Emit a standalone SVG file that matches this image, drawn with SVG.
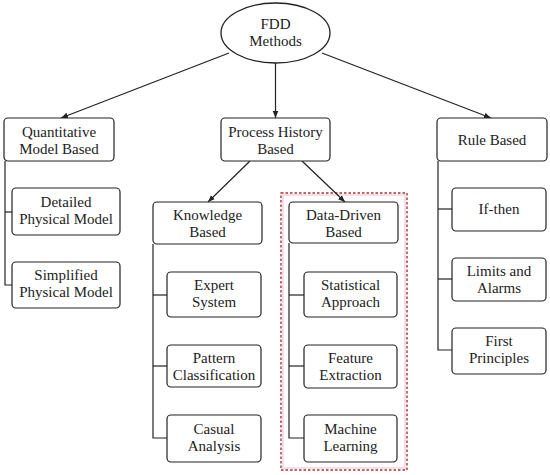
<svg xmlns="http://www.w3.org/2000/svg" width="550" height="475" viewBox="0 0 550 475">
<style>
.n rect{fill:#fff;stroke:#222;stroke-width:1.2}
.n ellipse{fill:#fff;stroke:#222;stroke-width:1.3}
text{font-family:'Liberation Serif','Times New Roman',serif;font-size:15px;fill:#222;text-anchor:middle}
.c line,.c polyline{stroke:#222;stroke-width:1.2;fill:none}
</style>
<defs>
<marker id="ah" viewBox="0 0 10 10" refX="10" refY="5" markerWidth="7" markerHeight="7" orient="auto" markerUnits="userSpaceOnUse">
<path d="M0,1 L10,5 L0,9 Z" fill="#222"/>
</marker>
</defs>
<rect x="283" y="195" width="122" height="273" fill="none" stroke="#f8dcea" stroke-width="2"/>
<rect x="281" y="193" width="126" height="277" fill="none" stroke="#a83232" stroke-width="1.4" stroke-dasharray="2.5,2"/>
<g class="c">
<line x1="229" y1="53" x2="61" y2="118" marker-end="url(#ah)"/>
<line x1="275.5" y1="63" x2="275.5" y2="118" marker-end="url(#ah)"/>
<line x1="322" y1="53" x2="491" y2="118" marker-end="url(#ah)"/>
<line x1="250" y1="161" x2="208" y2="202" marker-end="url(#ah)"/>
<line x1="302" y1="161" x2="345" y2="202" marker-end="url(#ah)"/>
<polyline points="5,161 5,285 12,285"/>
<line x1="5" y1="212" x2="12" y2="212"/>
<polyline points="153,244 153,438 167,438"/>
<line x1="153" y1="295" x2="167" y2="295"/>
<line x1="153" y1="366" x2="167" y2="366"/>
<polyline points="289,243 289,438 304,438"/>
<line x1="289" y1="295" x2="304" y2="295"/>
<line x1="289" y1="366" x2="304" y2="366"/>
<polyline points="438,161 438,350 452,350"/>
<line x1="438" y1="209" x2="452" y2="209"/>
<line x1="438" y1="279" x2="452" y2="279"/>
</g>
<g font-family="Liberation Serif, Times New Roman, serif">
<g id="fdd" class="n"><ellipse cx="275.5" cy="33" rx="54.5" ry="30"/><text x="275.5" y="29">FDD</text><text x="275.5" y="46">Methods</text></g>
<g id="quant" class="n"><rect x="4" y="118" width="110" height="43" rx="4"/><text x="59" y="137">Quantitative</text><text x="59" y="154">Model Based</text></g>
<g id="detailed" class="n"><rect x="12" y="188" width="108" height="47" rx="4"/><text x="66" y="207">Detailed</text><text x="66" y="224">Physical Model</text></g>
<g id="simplified" class="n"><rect x="12" y="262" width="108" height="46" rx="4"/><text x="66" y="280">Simplified</text><text x="66" y="297">Physical Model</text></g>
<g id="process" class="n"><rect x="221" y="118" width="109" height="43" rx="4"/><text x="275.5" y="137">Process History</text><text x="275.5" y="154">Based</text></g>
<g id="knowledge" class="n"><rect x="153" y="202" width="109" height="42" rx="4"/><text x="207.5" y="220">Knowledge</text><text x="207.5" y="237">Based</text></g>
<g id="expert" class="n"><rect x="167" y="272" width="94" height="45" rx="4"/><text x="214" y="290">Expert</text><text x="214" y="307">System</text></g>
<g id="pattern" class="n"><rect x="167" y="345" width="94" height="42" rx="4"/><text x="214" y="363">Pattern</text><text x="214" y="380">Classification</text></g>
<g id="casual" class="n"><rect x="167" y="415" width="94" height="47" rx="4"/><text x="214" y="434">Casual</text><text x="214" y="451">Analysis</text></g>
<g id="datadriven" class="n"><rect x="289" y="202" width="109" height="41" rx="4"/><text x="343.5" y="220">Data-Driven</text><text x="343.5" y="237">Based</text></g>
<g id="statistical" class="n"><rect x="304" y="272" width="93" height="45" rx="4"/><text x="350.5" y="290">Statistical</text><text x="350.5" y="307">Approach</text></g>
<g id="feature" class="n"><rect x="304" y="345" width="93" height="43" rx="4"/><text x="350.5" y="363">Feature</text><text x="350.5" y="380">Extraction</text></g>
<g id="machine" class="n"><rect x="304" y="415" width="93" height="47" rx="4"/><text x="350.5" y="434">Machine</text><text x="350.5" y="451">Learning</text></g>
<g id="rule" class="n"><rect x="437" y="118" width="110" height="43" rx="4"/><text x="492" y="145">Rule Based</text></g>
<g id="ifthen" class="n"><rect x="452" y="188" width="94" height="43" rx="4"/><text x="499" y="214">If-then</text></g>
<g id="limits" class="n"><rect x="452" y="258" width="94" height="43" rx="4"/><text x="499" y="276">Limits and</text><text x="499" y="293">Alarms</text></g>
<g id="first" class="n"><rect x="452" y="328" width="94" height="46" rx="4"/><text x="499" y="346">First</text><text x="499" y="363">Principles</text></g>
</g>
</svg>
